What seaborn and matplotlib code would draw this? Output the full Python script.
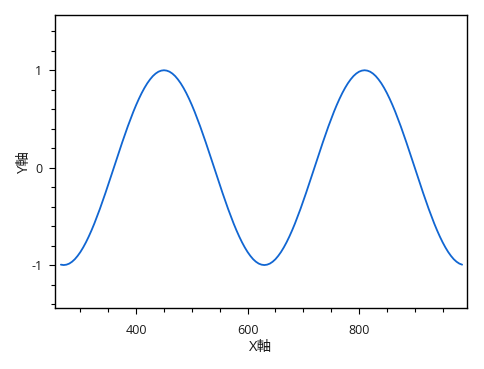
import matplotlib
matplotlib.use("Agg")
import matplotlib.pyplot as plt
import seaborn as sns
import pandas as pd
from matplotlib.ticker import MultipleLocator

x_values = list(range(265, 986, 5))
y_values = [
    -0.996, -1.000, -0.996, -0.985, -0.966, -0.940, -0.906, -0.866, -0.819, -0.766,
    -0.707, -0.643, -0.574, -0.500, -0.423, -0.342, -0.259, -0.174, -0.087, 0.000,
    0.087, 0.174, 0.259, 0.342, 0.423, 0.500, 0.574, 0.643, 0.707, 0.766,
    0.819, 0.866, 0.906, 0.940, 0.966, 0.985, 0.996, 1.000, 0.996, 0.985,
    0.966, 0.940, 0.906, 0.866, 0.819, 0.766, 0.707, 0.643, 0.574, 0.500,
    0.423, 0.342, 0.259, 0.174, 0.087, 0.000, -0.087, -0.174, -0.259, -0.342,
    -0.423, -0.500, -0.574, -0.643, -0.707, -0.766, -0.819, -0.866, -0.906, -0.940,
    -0.966, -0.985,
    -0.996, -1.000, -0.996, -0.985, -0.966, -0.940, -0.906, -0.866, -0.819, -0.766,
    -0.707, -0.643, -0.574, -0.500, -0.423, -0.342, -0.259, -0.174, -0.087, 0.000,
    0.087, 0.174, 0.259, 0.342, 0.423, 0.500, 0.574, 0.643, 0.707, 0.766,
    0.819, 0.866, 0.906, 0.940, 0.966, 0.985, 0.996, 1.000, 0.996, 0.985,
    0.966, 0.940, 0.906, 0.866, 0.819, 0.766, 0.707, 0.643, 0.574, 0.500,
    0.423, 0.342, 0.259, 0.174, 0.087, 0.000, -0.087, -0.174, -0.259, -0.342,
    -0.423, -0.500, -0.574, -0.643, -0.707, -0.766, -0.819, -0.866, -0.906, -0.940,
    -0.966, -0.985,
    -0.996,
]
x_label = "X軸"
y_label = "Y軸"
x_ticks = [400, 600, 800]
y_ticks = [-1, 0, 1]

sns.set_style("white")
plt.rcParams['font.family'] = ['Open Sans', 'Noto Sans CJK JP', 'DejaVu Sans']
plt.rcParams['axes.unicode_minus'] = False

df = pd.DataFrame({"x": x_values, "y": y_values})

fig = plt.figure(figsize=(4.84, 3.69), dpi=100)
ax = fig.add_axes([0.1143, 0.1645, 0.964 - 0.1143, 0.9585 - 0.1645])
sns.lineplot(data=df, x="x", y="y", ax=ax, color="#1166d2", linewidth=1.3)

ax.set_xlim(255, 993)
ax.set_ylim(-1.444, 1.564)
ax.set_xticks(x_ticks)
ax.set_yticks(y_ticks)
ax.set_xticklabels([str(v) for v in x_ticks])
ax.set_yticklabels([str(v) for v in y_ticks])
ax.xaxis.set_minor_locator(MultipleLocator(50))
ax.yaxis.set_minor_locator(MultipleLocator(0.2))

for s in ax.spines.values():
    s.set_color("black")
    s.set_linewidth(1.0)

ax.tick_params(axis="x", which="major", pad=6.5)
ax.tick_params(axis="y", which="major", pad=5)
ax.tick_params(which="major", direction="out", length=4.5, width=0.8, color="black",
               labelsize=9, labelcolor="#1a1a1a", left=True, bottom=True)
ax.tick_params(which="minor", direction="out", length=2.8, width=0.8, color="black",
               left=True, bottom=True)

ax.set_xlabel(x_label, fontsize=10.5, color="#1a1a1a")
ax.set_ylabel(y_label, fontsize=10.5, color="#1a1a1a")
ax.xaxis.set_label_coords(0.5, -0.108)
ax.yaxis.set_label_coords(-0.057, 0.5)

fig.savefig("out.png", dpi=100)
